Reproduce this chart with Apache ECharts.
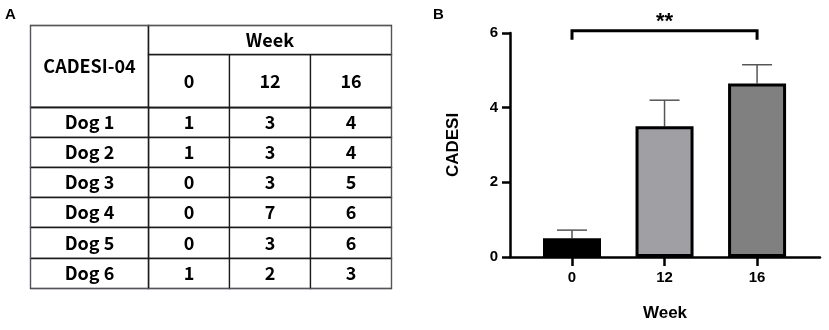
<!DOCTYPE html>
<html>
<head>
<meta charset="utf-8">
<script src="https://cdn.jsdelivr.net/npm/echarts@6.0.0/dist/echarts.min.js"></script>
<style>
  html, body { margin: 0; padding: 0; background: #fff; }
  #wrap { position: relative; width: 829px; height: 330px; }
  #table { position: absolute; left: 0; top: 0; width: 420px; height: 330px; }
  #bars { position: absolute; left: 420px; top: 0; width: 409px; height: 330px; }
</style>
</head>
<body>
<div id="wrap">
  <div id="table"></div>
  <div id="bars"></div>
</div>
<script>
// table A
var weeks = ['0', '12', '16'];
var dogs = ['Dog 1', 'Dog 2', 'Dog 3', 'Dog 4', 'Dog 5', 'Dog 6'];
var scoreWeek0 = [1, 1, 0, 0, 0, 1];
var scoreWeek12 = [3, 3, 3, 7, 3, 2];
var scoreWeek16 = [4, 4, 5, 6, 6, 3];
// chart B (mean and top of error bar)
var meanScore = [0.5, 3.5, 4.65];
var errTop = [0.72, 4.2, 5.15];
var barColors = ['#000000', '#a0a0a4', '#808080'];
var yTicks = [0, 2, 4, 6];

var scores = [scoreWeek0, scoreWeek12, scoreWeek16];
var bodyData = [];
scores.forEach(function (col, i) {
  col.forEach(function (v, j) {
    bodyData.push({coord: [i, j], value: v});
  });
});

// bar positions on the x value axis: 1, 2, 3
var xPos = weeks.map(function (w, i) { return i + 1; });

var tableFont = 'Noto Sans CJK KR';
var lineCol = '#1a1a1a';
var cellStyle = {color: '#fff', borderColor: lineCol, borderWidth: 1.3};
var cellLabel = {color: '#000', fontSize: 18, fontWeight: 'bold', fontFamily: tableFont};
var divider = {color: lineCol, width: 1.3};

var axisFont = 'Liberation Sans';

// ---- A: table
var tableChart = echarts.init(document.getElementById('table'));
tableChart.setOption({
  animation: false,
  matrix: {
    left: 30,
    top: 25,
    width: 361,
    height: 263,
    x: {
      data: [{value: 'Week', children: weeks}],
      levels: [{levelSize: 29}, {levelSize: 53}],
      itemStyle: cellStyle,
      label: cellLabel,
      dividerLineStyle: divider
    },
    y: {
      data: dogs,
      levels: [{levelSize: 118}],
      itemStyle: cellStyle,
      label: cellLabel,
      dividerLineStyle: divider
    },
    body: {
      data: bodyData,
      itemStyle: cellStyle,
      label: cellLabel
    },
    corner: {
      data: [{coord: [-1, [-2, -1]], mergeCells: true, value: 'CADESI-04'}],
      itemStyle: cellStyle,
      label: cellLabel
    }
  },
  graphic: [
    {type: 'text', left: 5, top: 7, style: {text: 'A', fontSize: 15, fontWeight: 'bold', fontFamily: axisFont, fill: '#000'}}
  ]
});

// ---- B: bar chart
var barChart = echarts.init(document.getElementById('bars'));
barChart.setOption({
  animation: false,
  graphic: [
    {type: 'text', left: 13, top: 7, style: {text: 'B', fontSize: 15, fontWeight: 'bold', fontFamily: axisFont, fill: '#000'}}
  ],
  grid: {
    left: 90,
    right: 9,
    top: 33,
    bottom: 73
  },
  xAxis: {
    type: 'value',
    min: 0.33,
    max: 3.68,
    name: 'Week',
    nameLocation: 'middle',
    nameGap: 48,
    nameTextStyle: {fontSize: 17, fontWeight: 'bold', fontFamily: axisFont, color: '#000'},
    splitLine: {show: false},
    axisLine: {show: true, lineStyle: {color: '#000', width: 2.5}},
    axisTick: {customValues: xPos, length: 9, lineStyle: {color: '#000', width: 2.5}},
    axisLabel: {
      customValues: xPos,
      margin: 13,
      fontSize: 15,
      fontWeight: 'bold',
      fontFamily: axisFont,
      color: '#000',
      formatter: function (v) { return weeks[Math.round(v) - 1]; }
    }
  },
  yAxis: {
    type: 'value',
    min: yTicks[0],
    max: yTicks[yTicks.length - 1],
    interval: 2,
    name: 'CADESI',
    nameLocation: 'middle',
    nameGap: 48,
    nameRotate: 90,
    nameTextStyle: {fontSize: 17, fontWeight: 'bold', fontFamily: axisFont, color: '#000'},
    splitLine: {show: false},
    axisLine: {show: true, lineStyle: {color: '#000', width: 2.5}},
    axisTick: {show: true, length: 8, lineStyle: {color: '#000', width: 2.5}},
    axisLabel: {margin: 12, fontSize: 15, fontWeight: 'bold', fontFamily: axisFont, color: '#000'}
  },
  series: [
    {
      type: 'custom',
      z: 1,
      data: xPos.map(function (x, i) { return [x, meanScore[i], errTop[i]]; }),
      renderItem: function (params, api) {
        var base = api.coord([api.value(0), api.value(1)]);
        var top = api.coord([api.value(0), api.value(2)]);
        var st = {stroke: '#555', lineWidth: 1.5};
        return {
          type: 'group',
          children: [
            {type: 'line', shape: {x1: base[0], y1: base[1], x2: top[0], y2: top[1]}, style: st},
            {type: 'line', shape: {x1: top[0] - 15, y1: top[1], x2: top[0] + 15, y2: top[1]}, style: st}
          ]
        };
      }
    },
    {
      type: 'bar',
      z: 2,
      barWidth: 58,
      data: xPos.map(function (x, i) {
        return {value: [x, meanScore[i]], itemStyle: {color: barColors[i]}};
      }),
      itemStyle: {borderColor: '#000', borderWidth: 3}
    },
    {
      type: 'custom',
      clip: false,
      z: 3,
      data: [[xPos[0], xPos[2], 6.06, 5.82]],
      renderItem: function (params, api) {
        var p1 = api.coord([api.value(0), api.value(3)]);
        var p2 = api.coord([api.value(0), api.value(2)]);
        var p3 = api.coord([api.value(1), api.value(2)]);
        var p4 = api.coord([api.value(1), api.value(3)]);
        return {
          type: 'group',
          children: [
            {type: 'polyline', shape: {points: [p1, p2, p3, p4]}, style: {stroke: '#000', lineWidth: 3, fill: null}},
            {type: 'text', x: (p2[0] + p3[0]) / 2, y: p2[1] - 20,
              style: {text: '**', fontSize: 22, fontWeight: 'bold', fontFamily: axisFont, fill: '#000', align: 'center', verticalAlign: 'top'}}
          ]
        };
      }
    }
  ]
});
</script>
</body>
</html>
